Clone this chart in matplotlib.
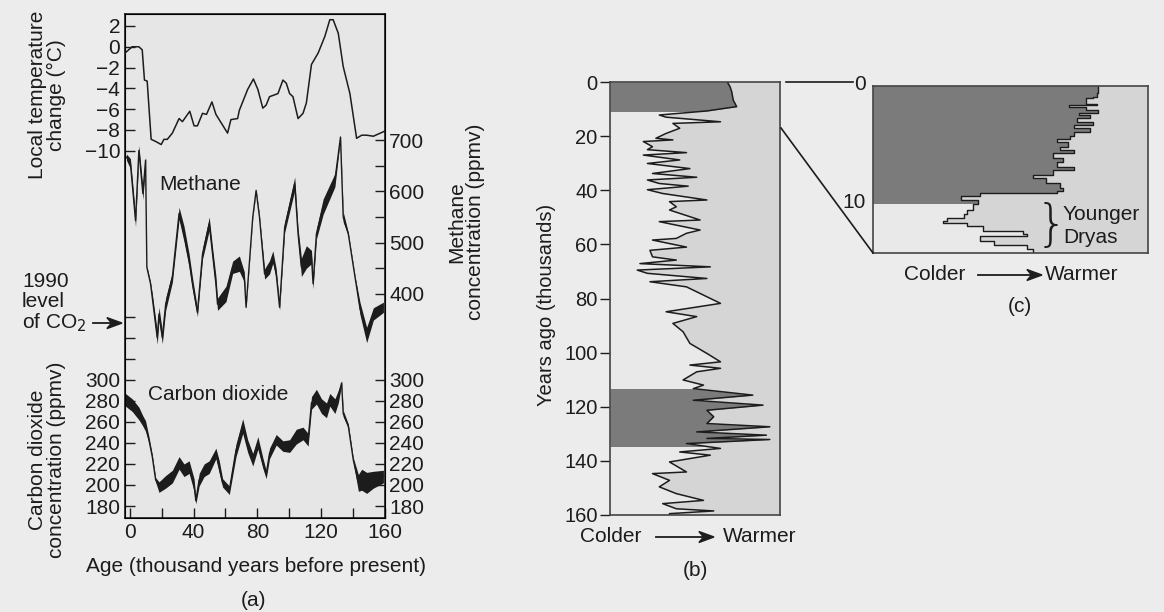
import numpy as np
import matplotlib.pyplot as plt
from matplotlib.patches import Rectangle

W, H = 1164, 612
plt.rcParams['font.family'] = ['Liberation Sans', 'DejaVu Sans']

# ---- (a) Vostok ice core: temperature, methane, CO2 vs age (kyr BP)
temp_age = [-3, 1.5, 5.7, 7.8, 9.2, 10.9, 13.4, 16.2, 19.7, 21.4, 23.5, 26.7, 30.9, 33, 37.6, 40.3,
            42.4, 45.6, 48.1, 51.5, 54, 61.3, 63.4, 67.6, 68.7, 73.9, 77.5, 80.3, 83.4, 85.5, 87.6,
            92.9, 96, 98.1, 100.2, 102.3, 105.5, 108.6, 110.7, 113.9, 118.1, 122.3, 125.4, 127.5,
            130.7, 133.8, 138, 142.2, 145.4, 148.5, 152.7, 160]
temp_val = [-0.6, 0.0, 0.0, -0.3, -3.2, -3.3, -8.9, -9.1, -9.4, -8.9, -8.9, -8.3, -6.9, -7.2, -6.2,
            -7.6, -7.6, -6.4, -6.5, -5.3, -6.5, -8.3, -7.0, -6.9, -6.1, -4.1, -3.1, -4.1, -5.9, -5.6,
            -4.8, -4.5, -3.2, -3.5, -4.5, -4.8, -6.9, -6.4, -5.4, -1.7, -0.6, 1.0, 2.6, 2.6, 1.3,
            -1.9, -4.5, -8.8, -8.5, -8.5, -8.6, -8.1]

ch4_age = [-2.1, 0.4, 3.6, 5.7, 8.2, 9.9, 10.7, 13.0, 14.1, 17.2, 18.3, 20.4, 22.5, 26.7, 30.9, 34.0,
           37.2, 39.3, 42.4, 45.6, 49.8, 51.9, 54.0, 55.0, 60.3, 64.5, 68.7, 71.8, 72.9, 77.1, 79.2,
           81.3, 84.5, 87.6, 89.7, 91.8, 93.9, 97.1, 103.4, 105.5, 107.6, 110.7, 113.9, 114.9,
           117.0, 121.2, 128.6, 132.1, 133.8, 137.0, 141.2, 144.3, 148.5, 152.7, 159.0]
ch4_val = [667, 654, 543, 680, 596, 661, 452, 420, 393, 315, 361, 315, 380, 433, 557, 517, 465, 420,
           364, 478, 537, 478, 420, 380, 400, 452, 459, 433, 374, 550, 602, 550, 439, 452, 472, 439,
           374, 530, 615, 517, 452, 472, 472, 420, 517, 570, 622, 706, 550, 517, 433, 372, 320, 361, 374]
ch4_spread = [6, 10, 12, 10, 12, 6, 3, 3, 8, 13, 13, 12, 12, 10, 12, 15, 13, 12, 8, 10, 13, 12, 15,
              12, 15, 12, 15, 10, 3, 2, 2, 3, 10, 13, 12, 10, 6, 10, 13, 11, 18, 22, 13, 10, 10, 15,
              13, 2, 10, 3, 2, 12, 15, 12, 10]

co2_age = [-2.7, 1.5, 5.7, 7.8, 9.9, 12.0, 14.1, 16.2, 18.3, 22.5, 26.7, 30.9, 34.0, 37.2, 40.3,
           41.4, 43.5, 46.6, 49.8, 54.0, 56.1, 58.2, 62.4, 66.6, 70.8, 73.9, 77.1, 80.3, 83.4, 85.5,
           87.6, 91.8, 96.0, 100.2, 104.4, 108.6, 111.8, 113.9, 117.0, 120.2, 123.3, 125.4, 128.6,
           130.7, 132.8, 133.8, 137.0, 140.1, 143.3, 145.4, 148.5, 152.7, 159.0]
co2_val = [281, 276, 268, 262, 256, 243, 227, 205, 198, 203, 208, 221, 214, 217, 200, 185, 205, 214,
           217, 230, 217, 202, 195, 233, 256, 237, 224, 240, 221, 210, 230, 243, 237, 237, 246, 249,
           243, 278, 284, 275, 271, 281, 275, 284, 297, 268, 256, 224, 202, 205, 202, 205, 208]
co2_spread = [6, 6, 6, 5, 5, 3, 2, 2, 5, 6, 6, 6, 6, 6, 6, 3, 6, 6, 6, 5, 6, 4, 4, 6, 7, 6, 6, 6, 5,
              4, 5, 5, 5, 6, 7, 6, 6, 6, 7, 7, 7, 6, 7, 6, 2, 3, 2, 2, 8, 10, 10, 8, 6]
co2_1990 = 354

# ---- (b) 160 kyr temperature proxy (Colder -> Warmer, arbitrary units 0-10)
b_age = [0, 1.7, 3.6, 6.7, 9.1, 10.7, 12.2, 13.0, 14.7, 15.3, 17.1, 19.0, 20.8, 21.4, 22.0, 23.9,
         25.0, 26.1, 27.0, 28.8, 30.1, 32.0, 33.8, 35.2, 36.2, 37.5, 38.5, 39.8, 41.2, 43.6, 44.2,
         46.1, 47.3, 51.0, 51.6, 54.7, 55.9, 57.8, 58.4, 61.0, 62.2, 64.6, 65.8, 67.1, 68.3, 69.5,
         70.7, 72.6, 73.8, 75.7, 81.8, 84.9, 86.7, 89.2, 92.3, 96.6, 100.3, 103.4, 104.6, 105.8,
         107.1, 110.1, 112.0, 113.3, 115.7, 117.6, 119.4, 121.3, 123.7, 126.2, 127.4, 129.3, 130.5,
         131.7, 132.1, 133.6, 135.4, 136.7, 137.9, 140.4, 144.1, 144.7, 147.2, 149.6, 152.1, 154.6,
         155.8, 157.7, 158.5, 159.5, 160]
b_val = [6.9, 7.06, 7.16, 7.25, 7.45, 5.7, 2.9, 3.3, 6.5, 3.7, 4.1, 3.3, 2.7, 3.7, 1.96, 2.5, 2.2,
         4.5, 1.96, 4.1, 2.2, 4.7, 2.5, 5.1, 2.2, 2.9, 4.6, 2.2, 3.1, 5.7, 3.5, 3.9, 3.5, 5.3, 2.9,
         5.3, 4.5, 3.9, 2.5, 4.5, 2.35, 2.5, 3.9, 1.76, 5.9, 1.6, 2.2, 5.7, 2.35, 4.5, 6.5, 3.3, 5.1,
         3.7, 4.3, 4.7, 5.7, 6.5, 4.7, 6.5, 5.1, 4.3, 5.5, 4.9, 8.4, 4.9, 9.0, 5.7, 6.1, 5.7, 9.4,
         5.1, 9.2, 5.7, 9.4, 4.5, 6.5, 4.1, 5.9, 3.5, 4.5, 2.5, 3.5, 2.9, 3.9, 5.5, 3.1, 3.9, 6.1,
         3.5, 3.5]
b_warm = [(0, 10.7), (113.5, 134.5)]   # interglacials, shaded dark

# ---- (c) last 14 kyr, zoom of (b)
c_age = [0, 0.6, 0.9, 1.05, 1.5, 1.6, 1.77, 2.05, 2.3, 2.5, 2.76, 3.05, 3.3, 3.6, 3.9, 4.3, 4.5,
         4.76, 5.2, 5.5, 5.75, 6.2, 6.5, 6.9, 7.2, 7.6, 7.9, 8.3, 8.75, 9.0, 9.2, 9.46, 9.74, 10.1,
         10.6, 11.0, 11.3, 11.6, 11.7, 12.0, 12.45, 12.7, 12.88, 13.3, 13.6, 14.0, 14.3]
c_val = [8.19, 8.13, 8.0, 7.75, 8.13, 7.13, 7.75, 8.19, 7.5, 7.9, 7.4, 8.0, 7.3, 7.9, 7.3, 7.16, 6.7,
         7.1, 6.8, 7.3, 6.55, 6.9, 6.7, 7.3, 6.55, 5.8, 6.3, 6.8, 6.9, 6.7, 3.9, 3.2, 3.8, 3.65, 3.4,
         3.3, 2.68, 2.55, 3.4, 4.0, 5.47, 5.6, 3.9, 4.4, 5.6, 5.8, 5.8]
c_warm = (0, 10.0)

ink = '#1c1c1c'
dark = '#7b7b7b'
light = '#e9e9e9'
mid = '#d5d5d5'
fs = 15


def fx(x):
    return x / W


def fy(y):
    return 1 - y / H


def ftext(x, y, s, **kw):
    kw.setdefault('fontsize', fs)
    kw.setdefault('color', ink)
    fig.text(fx(x), fy(y), s, **kw)


def farrow(x0, y0, x1, y1):
    fig.add_artist(plt.Line2D([fx(x0), fx(x1) - 0.004], [fy(y0), fy(y1)], color=ink, lw=1.3,
                              transform=fig.transFigure))
    fig.patches.append(plt.Polygon([[fx(x1), fy(y1)], [fx(x1) - 0.013, fy(y1) + 0.009],
                                    [fx(x1) - 0.009, fy(y1)], [fx(x1) - 0.013, fy(y1) - 0.009]],
                                   closed=True, color=ink, transform=fig.transFigure))


fig = plt.figure(figsize=(W / 100, H / 100), dpi=100, facecolor='#ececec')

# ================= panel (a)
rect_a = [fx(125), fy(518), 260 / W, 504 / H]
ax_c = fig.add_axes(rect_a, facecolor='#e6e6e6')
ax_c.set_xlim(-3, 160)
ax_c.set_ylim(168.6, 648)
co2_v = np.array(co2_val)
co2_s = np.array(co2_spread)
ax_c.fill_between(co2_age, co2_v - co2_s, co2_v + co2_s, color=ink, lw=0)
ax_c.plot(co2_age, co2_val, color=ink, lw=1)
ax_c.set_xticks(np.arange(0, 161, 20))
ax_c.set_xticklabels([str(v) if v % 40 == 0 else '' for v in range(0, 161, 20)])
ax_c.set_yticks(np.arange(180, 361, 20))
ax_c.set_yticklabels([str(v) if v <= 300 else '' for v in range(180, 361, 20)])
ax_c.tick_params(direction='in', length=7, width=1, colors=ink, labelsize=fs)
for s in ax_c.spines.values():
    s.set_color(ink)
    s.set_linewidth(1.2)

ax_c2 = ax_c.twinx()
ax_c2.set_ylim(168.6, 648)
ax_c2.set_yticks(np.arange(180, 301, 20))
ax_c2.tick_params(direction='in', length=7, width=1, colors=ink, labelsize=fs, pad=3)

ax_m = fig.add_axes(rect_a, sharex=ax_c, frameon=False)
ax_m.set_ylim(-37, 946)
ch4_v = np.array(ch4_val)
ch4_s = np.array(ch4_spread)
ax_m.fill_between(ch4_age, ch4_v - ch4_s, ch4_v + ch4_s, color=ink, lw=0)
ax_m.plot(ch4_age, ch4_val, color=ink, lw=1)
ax_m.yaxis.tick_right()
ax_m.set_yticks(np.arange(400, 701, 50))
ax_m.set_yticklabels([str(v) if v % 100 == 0 else '' for v in range(400, 701, 50)])
ax_m.tick_params(axis='y', direction='in', length=7, width=1, colors=ink, labelsize=fs, pad=3)
ax_m.tick_params(axis='x', bottom=False, labelbottom=False)

ax_t = fig.add_axes(rect_a, sharex=ax_c, frameon=False)
ax_t.set_ylim(-45.3, 3.15)
ax_t.plot(temp_age, temp_val, color=ink, lw=1.1)
ax_t.set_yticks(np.arange(-10, 3, 2))
ax_t.tick_params(axis='y', direction='in', length=7, width=1, colors=ink, labelsize=fs)
ax_t.tick_params(axis='x', bottom=False, labelbottom=False)

ftext(47, 95, 'Local temperature\nchange (°C)', rotation=90, ha='center', va='center',
      linespacing=1.0)
ftext(466, 222, 'Methane\nconcentration (ppmv)', rotation=90, ha='center', va='center',
      linespacing=1.0)
ftext(47, 460, 'Carbon dioxide\nconcentration (ppmv)', rotation=90, ha='center', va='center',
      linespacing=1.0)
ftext(22, 303, '1990\nlevel\nof CO$_2$', ha='left', va='center', linespacing=1.05)
y_arrow = ax_c.transData.transform((0, co2_1990))[1]
farrow(93, H - y_arrow, 122, H - y_arrow)
ftext(159, 185, 'Methane', ha='left', va='center')
ftext(148, 394, 'Carbon dioxide', ha='left', va='center')
ftext(256, 567, 'Age (thousand years before present)', ha='center', va='center')
ftext(253, 600, '(a)', ha='center', va='center')

# ================= panel (b)
ax_b = fig.add_axes([fx(610), fy(515), 170 / W, 433 / H], facecolor=mid)
ax_b.set_xlim(0, 10)
ax_b.set_ylim(160, 0)
ax_b.fill_betweenx(b_age, 0, b_val, color=light, lw=0)
for a0, a1 in b_warm:
    f = ax_b.fill_betweenx(b_age, 0, b_val, color=dark, lw=0)
    f.set_clip_path(Rectangle((0, a0), 10, a1 - a0, transform=ax_b.transData))
ax_b.plot(b_val, b_age, color=ink, lw=1.1)
ax_b.set_xticks([])
ax_b.set_yticks(np.arange(0, 161, 20))
ax_b.tick_params(direction='out', length=7, width=1, colors=ink, labelsize=14.5, pad=2)
for s in ax_b.spines.values():
    s.set_color('#444444')
    s.set_linewidth(1.2)
ftext(546, 305, 'Years ago (thousands)', rotation=90, ha='center', va='center', fontsize=14.5)
ftext(611, 537, 'Colder', ha='center', va='center')
farrow(656, 537, 714, 537)
ftext(760, 537, 'Warmer', ha='center', va='center')
ftext(695, 571, '(b)', ha='center', va='center')

# ================= panel (c)
ax_cc = fig.add_axes([fx(873), fy(253), 275 / W, 167 / H], facecolor=mid)
ax_cc.set_xlim(0, 10)
ax_cc.set_ylim(14.3, 0)
cs_age = np.repeat(c_age, 2)[1:]
cs_val = np.repeat(c_val, 2)[:-1]
ax_cc.fill_betweenx(cs_age, 0, cs_val, color=light, lw=0)
f = ax_cc.fill_betweenx(cs_age, 0, cs_val, color=dark, lw=0)
f.set_clip_path(Rectangle((0, c_warm[0]), 10, c_warm[1] - c_warm[0], transform=ax_cc.transData))
ax_cc.plot(cs_val, cs_age, color=ink, lw=1.0)
ax_cc.set_xticks([])
ax_cc.set_yticks([])
for s in ax_cc.spines.values():
    s.set_color('#444444')
    s.set_linewidth(1.2)
ftext(866, 84, '0', ha='right', va='center')
ftext(866, 203, '10', ha='right', va='center')
ftext(1051, 226, '}', ha='center', va='center', fontsize=36, family='DejaVu Sans',
      fontweight='light')
ftext(1063, 214, 'Younger', ha='left', va='center')
ftext(1063, 238, 'Dryas', ha='left', va='center')
ftext(935, 275, 'Colder', ha='center', va='center')
farrow(978, 275, 1042, 275)
ftext(1082, 275, 'Warmer', ha='center', va='center')
ftext(1020, 307, '(c)', ha='center', va='center')

# connector lines from (b) to (c)
fig.add_artist(plt.Line2D([fx(786), fx(853)], [fy(82), fy(82)], color=ink, lw=1.2,
                          transform=fig.transFigure))
fig.add_artist(plt.Line2D([fx(781), fx(873)], [fy(128), fy(253)], color=ink, lw=1.2,
                          transform=fig.transFigure))

fig.savefig('out.png', dpi=100, facecolor=fig.get_facecolor())
